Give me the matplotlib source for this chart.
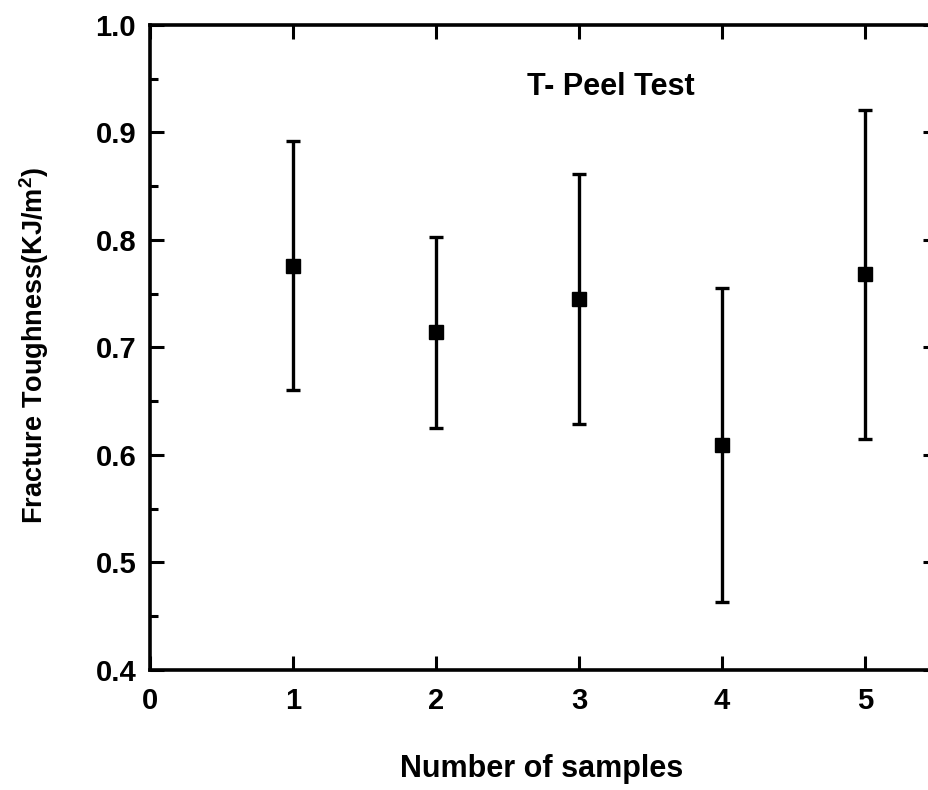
import matplotlib
matplotlib.use("Agg")
import matplotlib.pyplot as plt
from matplotlib.ticker import MultipleLocator

plt.rcParams["font.family"] = ["Liberation Sans", "DejaVu Sans"]
plt.rcParams["font.weight"] = "bold"
plt.rcParams["mathtext.fontset"] = "custom"
plt.rcParams["mathtext.bf"] = "Liberation Sans:bold"
plt.rcParams["mathtext.rm"] = "Liberation Sans:bold"

# Datos
samples = [1, 2, 3, 4, 5]
toughness = [0.776, 0.714, 0.745, 0.609, 0.768]
errors = [0.116, 0.089, 0.116, 0.146, 0.153]

fig = plt.figure(figsize=(9.29, 7.90), dpi=100)
# el eje derecho queda fuera de la imagen, como en la original
ax = fig.add_axes([0.1615, 0.1519, 0.8466, 0.8165])

ax.errorbar(samples, toughness, yerr=errors, fmt="s", color="black",
            markersize=10, elinewidth=2.4, capsize=5, capthick=2.4)

ax.set_xlim(0, 5.5)
ax.set_ylim(0.4, 1.0)
ax.xaxis.set_major_locator(MultipleLocator(1))
ax.yaxis.set_major_locator(MultipleLocator(0.1))
ax.yaxis.set_minor_locator(MultipleLocator(0.05))
ax.yaxis.set_major_formatter(plt.FormatStrFormatter("%.1f"))

for s in ax.spines.values():
    s.set_linewidth(2.6)

ax.tick_params(which="both", direction="in", top=True, right=True, width=2.2)
ax.tick_params(which="major", length=10)
ax.tick_params(which="minor", length=5.5)
ax.tick_params(axis="x", labelsize=21, pad=12)
ax.tick_params(axis="y", labelsize=21, pad=10)
for lbl in ax.get_xticklabels() + ax.get_yticklabels():
    lbl.set_fontweight("bold")

ax.text(3.22, 0.935, "T- Peel Test", ha="center", va="baseline",
        fontsize=22, fontweight="bold")

fig.text(542 / 929, 1 - 777 / 790, "Number of samples", ha="center",
         va="baseline", fontsize=22, fontweight="bold")
fig.text(34 / 929, 1 - 345 / 790, r"Fracture Toughness(KJ/m$\mathbf{^2}$)",
         ha="center", va="center", rotation=90, fontsize=19.5, fontweight="bold")

fig.savefig("out.png", dpi=100)
